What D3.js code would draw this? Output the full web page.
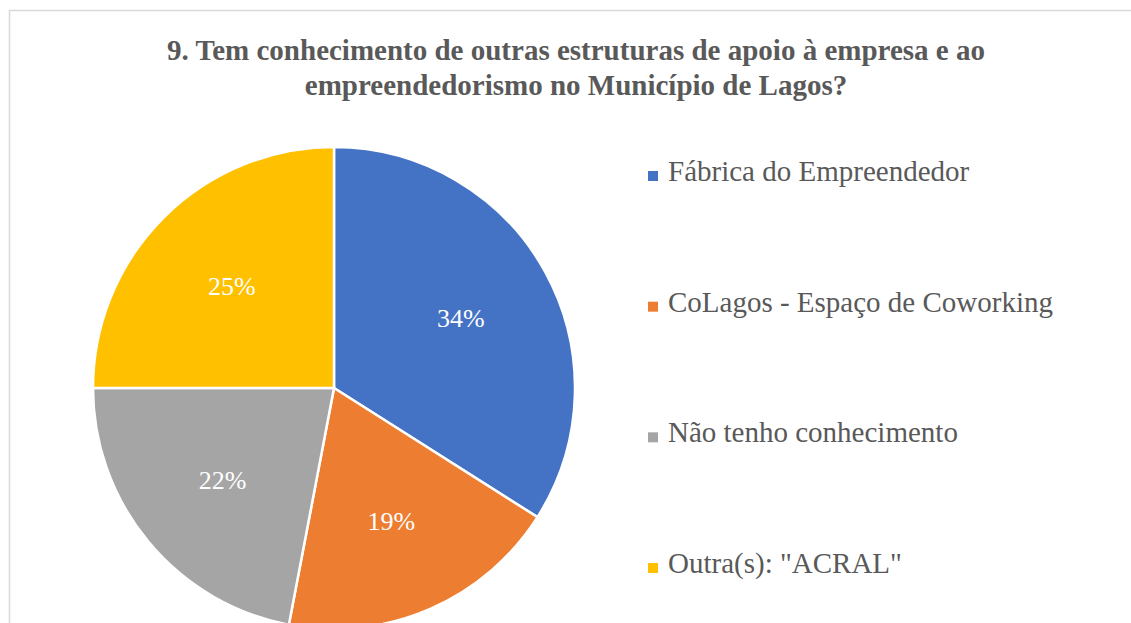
<!DOCTYPE html>
<html>
<head>
<meta charset="utf-8">
<script src="https://cdn.jsdelivr.net/npm/d3@7"></script>
<style>
  body { margin: 0; background: #fff; }
  text { font-family: "Liberation Serif", "Times New Roman", serif; }
</style>
</head>
<body>
<div id="chart"></div>
<script>
// Chart data.
const titleLines = ["9. Tem conhecimento de outras estruturas de apoio à empresa e ao",
                    "empreendedorismo no Município de Lagos?"];
const categories = ["Fábrica do Empreendedor", "CoLagos - Espaço de Coworking",
                    "Não tenho conhecimento", "Outra(s): \"ACRAL\""];
const values = [34, 19, 22, 25];
const colors = ["#4472C4", "#ED7D31", "#A5A5A5", "#FFC000"];

let width = 1131, height = 623;

let svg = d3.select("#chart")
.append("svg")
.attr("width", width)
.attr("height", height);

// Chart border (only top and left are visible in the crop).
svg.append("path")
.attr("d", "M9.5," + height + "V10.5H" + width)
.attr("fill", "none")
.attr("stroke", "#d9d9d9")
.attr("stroke-width", 1.5);

// Title.
svg.append("g")
.selectAll("text")
.data(titleLines)
.enter()
.append("text")
.attr("x", 576)
.attr("y", (d, i) => 60 + i * 35)
.attr("text-anchor", "middle")
.attr("font-size", 29)
.attr("font-weight", "bold")
.attr("fill", "#595959")
.text(d => d);

// Pie.
let cx = 334, cy = 388, radius = 241;

let pie = d3.pie().sort(null).value(d => d);
let arc = d3.arc().innerRadius(0).outerRadius(radius);
let labelArc = d3.arc().innerRadius(radius * 0.6).outerRadius(radius * 0.6);

let pie_g = svg.append("g")
.attr("transform", "translate(" + cx + "," + cy + ")");

let arcs = pie(values);

pie_g.selectAll("path")
.data(arcs)
.enter()
.append("path")
.attr("d", arc)
.style("fill", (d, i) => colors[i])
.attr("stroke", "white")
.attr("stroke-width", 2.5);

pie_g.selectAll("text")
.data(arcs)
.enter()
.append("text")
.attr("transform", d => "translate(" + labelArc.centroid(d) + ")")
.attr("text-anchor", "middle")
.attr("dy", "0.35em")
.attr("font-size", 26)
.attr("fill", "white")
.text(d => d.value + "%");

// Legend.
let legend_y = d3.scalePoint()
.domain(categories)
.range([181, 573]);

let legend = svg.append("g")
.selectAll("g")
.data(categories)
.enter()
.append("g")
.attr("transform", d => "translate(648," + legend_y(d) + ")");

legend.append("rect")
.attr("x", 0)
.attr("y", -10)
.attr("width", 10)
.attr("height", 10)
.style("fill", (d, i) => colors[i]);

legend.append("text")
.attr("x", 20)
.attr("font-size", 29)
.attr("fill", "#595959")
.text(d => d);
</script>
</body>
</html>
